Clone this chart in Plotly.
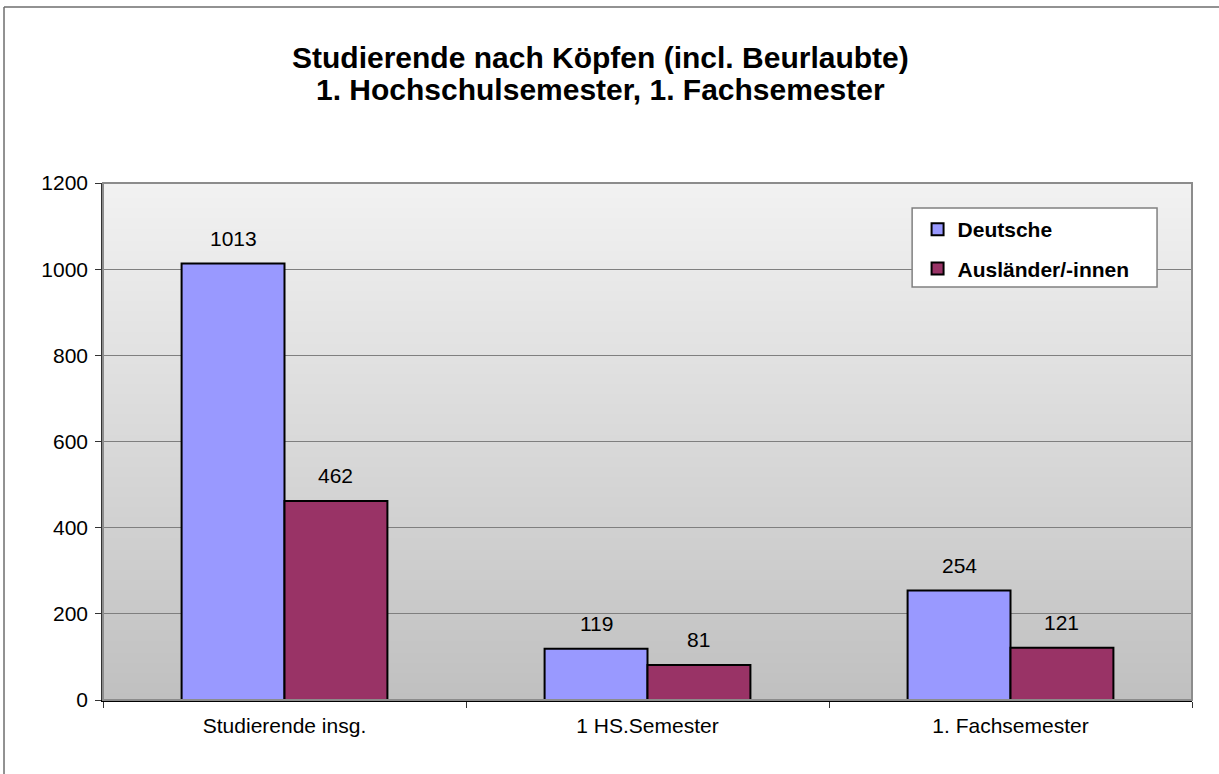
import base64, struct, zlib
import plotly.graph_objects as go

categories = ["Studierende insg.", "1 HS.Semester", "1. Fachsemester"]
deutsche = [1013, 119, 254]
auslaender = [462, 81, 121]
series_names = ["Deutsche", "Ausländer/-innen"]
y_ticks = [0, 200, 400, 600, 800, 1000, 1200]
title_lines = ["Studierende nach Köpfen (incl. Beurlaubte)",
               "1. Hochschulsemester, 1. Fachsemester"]

FONT = "Liberation Sans, Arial, sans-serif"
BARGAP = 0.433
BAR_W = (1 - BARGAP) / 2


def gradient_png(top=(0xF2, 0xF2, 0xF2), bottom=(0xC0, 0xC0, 0xC0), h=256):
    raw = b""
    for i in range(h):
        t = i / (h - 1)
        px = bytes(int(round(top[k] + (bottom[k] - top[k]) * t)) for k in range(3))
        raw += b"\x00" + px
    def chunk(tag, data):
        c = struct.pack(">I", len(data)) + tag + data
        return c + struct.pack(">I", zlib.crc32(tag + data) & 0xFFFFFFFF)
    png = b"\x89PNG\r\n\x1a\n"
    png += chunk(b"IHDR", struct.pack(">IIBBBBB", 1, h, 8, 2, 0, 0, 0))
    png += chunk(b"IDAT", zlib.compress(raw))
    png += chunk(b"IEND", b"")
    return "data:image/png;base64," + base64.b64encode(png).decode()


xs = list(range(len(categories)))
fig = go.Figure()
fig.add_trace(go.Bar(x=xs, y=deutsche, name=series_names[0], legendgroup="a",
                     marker=dict(color="#9999FF", line=dict(color="#000000", width=2))))
fig.add_trace(go.Bar(x=xs, y=auslaender, name=series_names[1], legendgroup="b",
                     marker=dict(color="#993366", line=dict(color="#000000", width=2))))

annotations = []
for vals, off in ((deutsche, -BAR_W / 2), (auslaender, BAR_W / 2)):
    for i, v in enumerate(vals):
        annotations.append(dict(x=i + off, y=v, xref="x", yref="y", text=str(v),
                                showarrow=False, yanchor="bottom", yshift=12,
                                font=dict(family=FONT, size=21, color="#000000")))
for line, yy in zip(title_lines, (1.2418, 1.1799)):
    annotations.append(dict(x=0.4573, y=yy, xref="paper", yref="paper", text="<b>" + line + "</b>",
                            showarrow=False, xanchor="center", yanchor="middle",
                            font=dict(family=FONT, size=30, color="#000000")))

fig.update_layout(
    width=1219, height=774,
    margin=dict(l=103, r=27, t=183, b=74),
    paper_bgcolor="#FFFFFF", plot_bgcolor="#F2F2F2",
    barmode="group", bargap=BARGAP, bargroupgap=0,
    font=dict(family=FONT, size=21, color="#000000"),
    showlegend=True,
    legend=dict(x=0.748, y=0.9496, xanchor="left", yanchor="top",
                bgcolor="rgba(0,0,0,0)", borderwidth=0,
                font=dict(family=FONT, size=21, color="#000000", weight="bold"),
                tracegroupgap=9, traceorder="grouped"),
    annotations=annotations,
    images=[dict(source=gradient_png(), xref="paper", yref="paper", x=0, y=1,
                 sizex=1, sizey=1, sizing="stretch", layer="below", xanchor="left", yanchor="top")],
    shapes=[
        dict(type="rect", xref="paper", yref="paper", x0=0, x1=1, y0=0, y1=1,
             line=dict(color="#8C8C8C", width=2), layer="above"),
        # legend box
        dict(type="rect", xref="paper", yref="paper", x0=0.743, x1=0.9679, y0=0.7988, y1=0.9516,
             fillcolor="#FFFFFF", line=dict(color="#808080", width=1.5), layer="above"),
        # outer chart border (only left and top edges are visible in the frame)
        dict(type="line", xref="paper", yref="paper", x0=-0.0909, x1=-0.0909, y0=-0.2, y1=1.3404,
             line=dict(color="#6E6E6E", width=1.5), layer="above"),
        dict(type="line", xref="paper", yref="paper", x0=-0.0909, x1=1.05, y0=1.3404, y1=1.3404,
             line=dict(color="#6E6E6E", width=1.5), layer="above"),
    ],
    xaxis=dict(range=[-0.5, 2.5], tickvals=xs, ticktext=categories, ticks="outside",
               ticklen=6, tickcolor="rgba(0,0,0,0)", showgrid=False, zeroline=False,
               showline=True, linecolor="#000000", linewidth=2,
               minor=dict(tick0=0.5, dtick=1, ticks="outside", ticklen=6,
                          tickcolor="#333333", tickwidth=1, showgrid=False),
               tickfont=dict(family=FONT, size=21, color="#000000")),
    yaxis=dict(range=[0, 1200], tickvals=y_ticks, ticks="outside", ticklen=6,
               tickcolor="#333333", showgrid=True, gridcolor="#7F7F7F", gridwidth=1,
               zeroline=False, showline=True, linecolor="#333333", linewidth=1.5,
               ticklabelstandoff=3,
               tickfont=dict(family=FONT, size=21, color="#000000")),
)

fig.write_html("out.html", config={"displayModeBar": False},
               post_script="document.body.style.margin='0';document.body.style.overflow='hidden';")
